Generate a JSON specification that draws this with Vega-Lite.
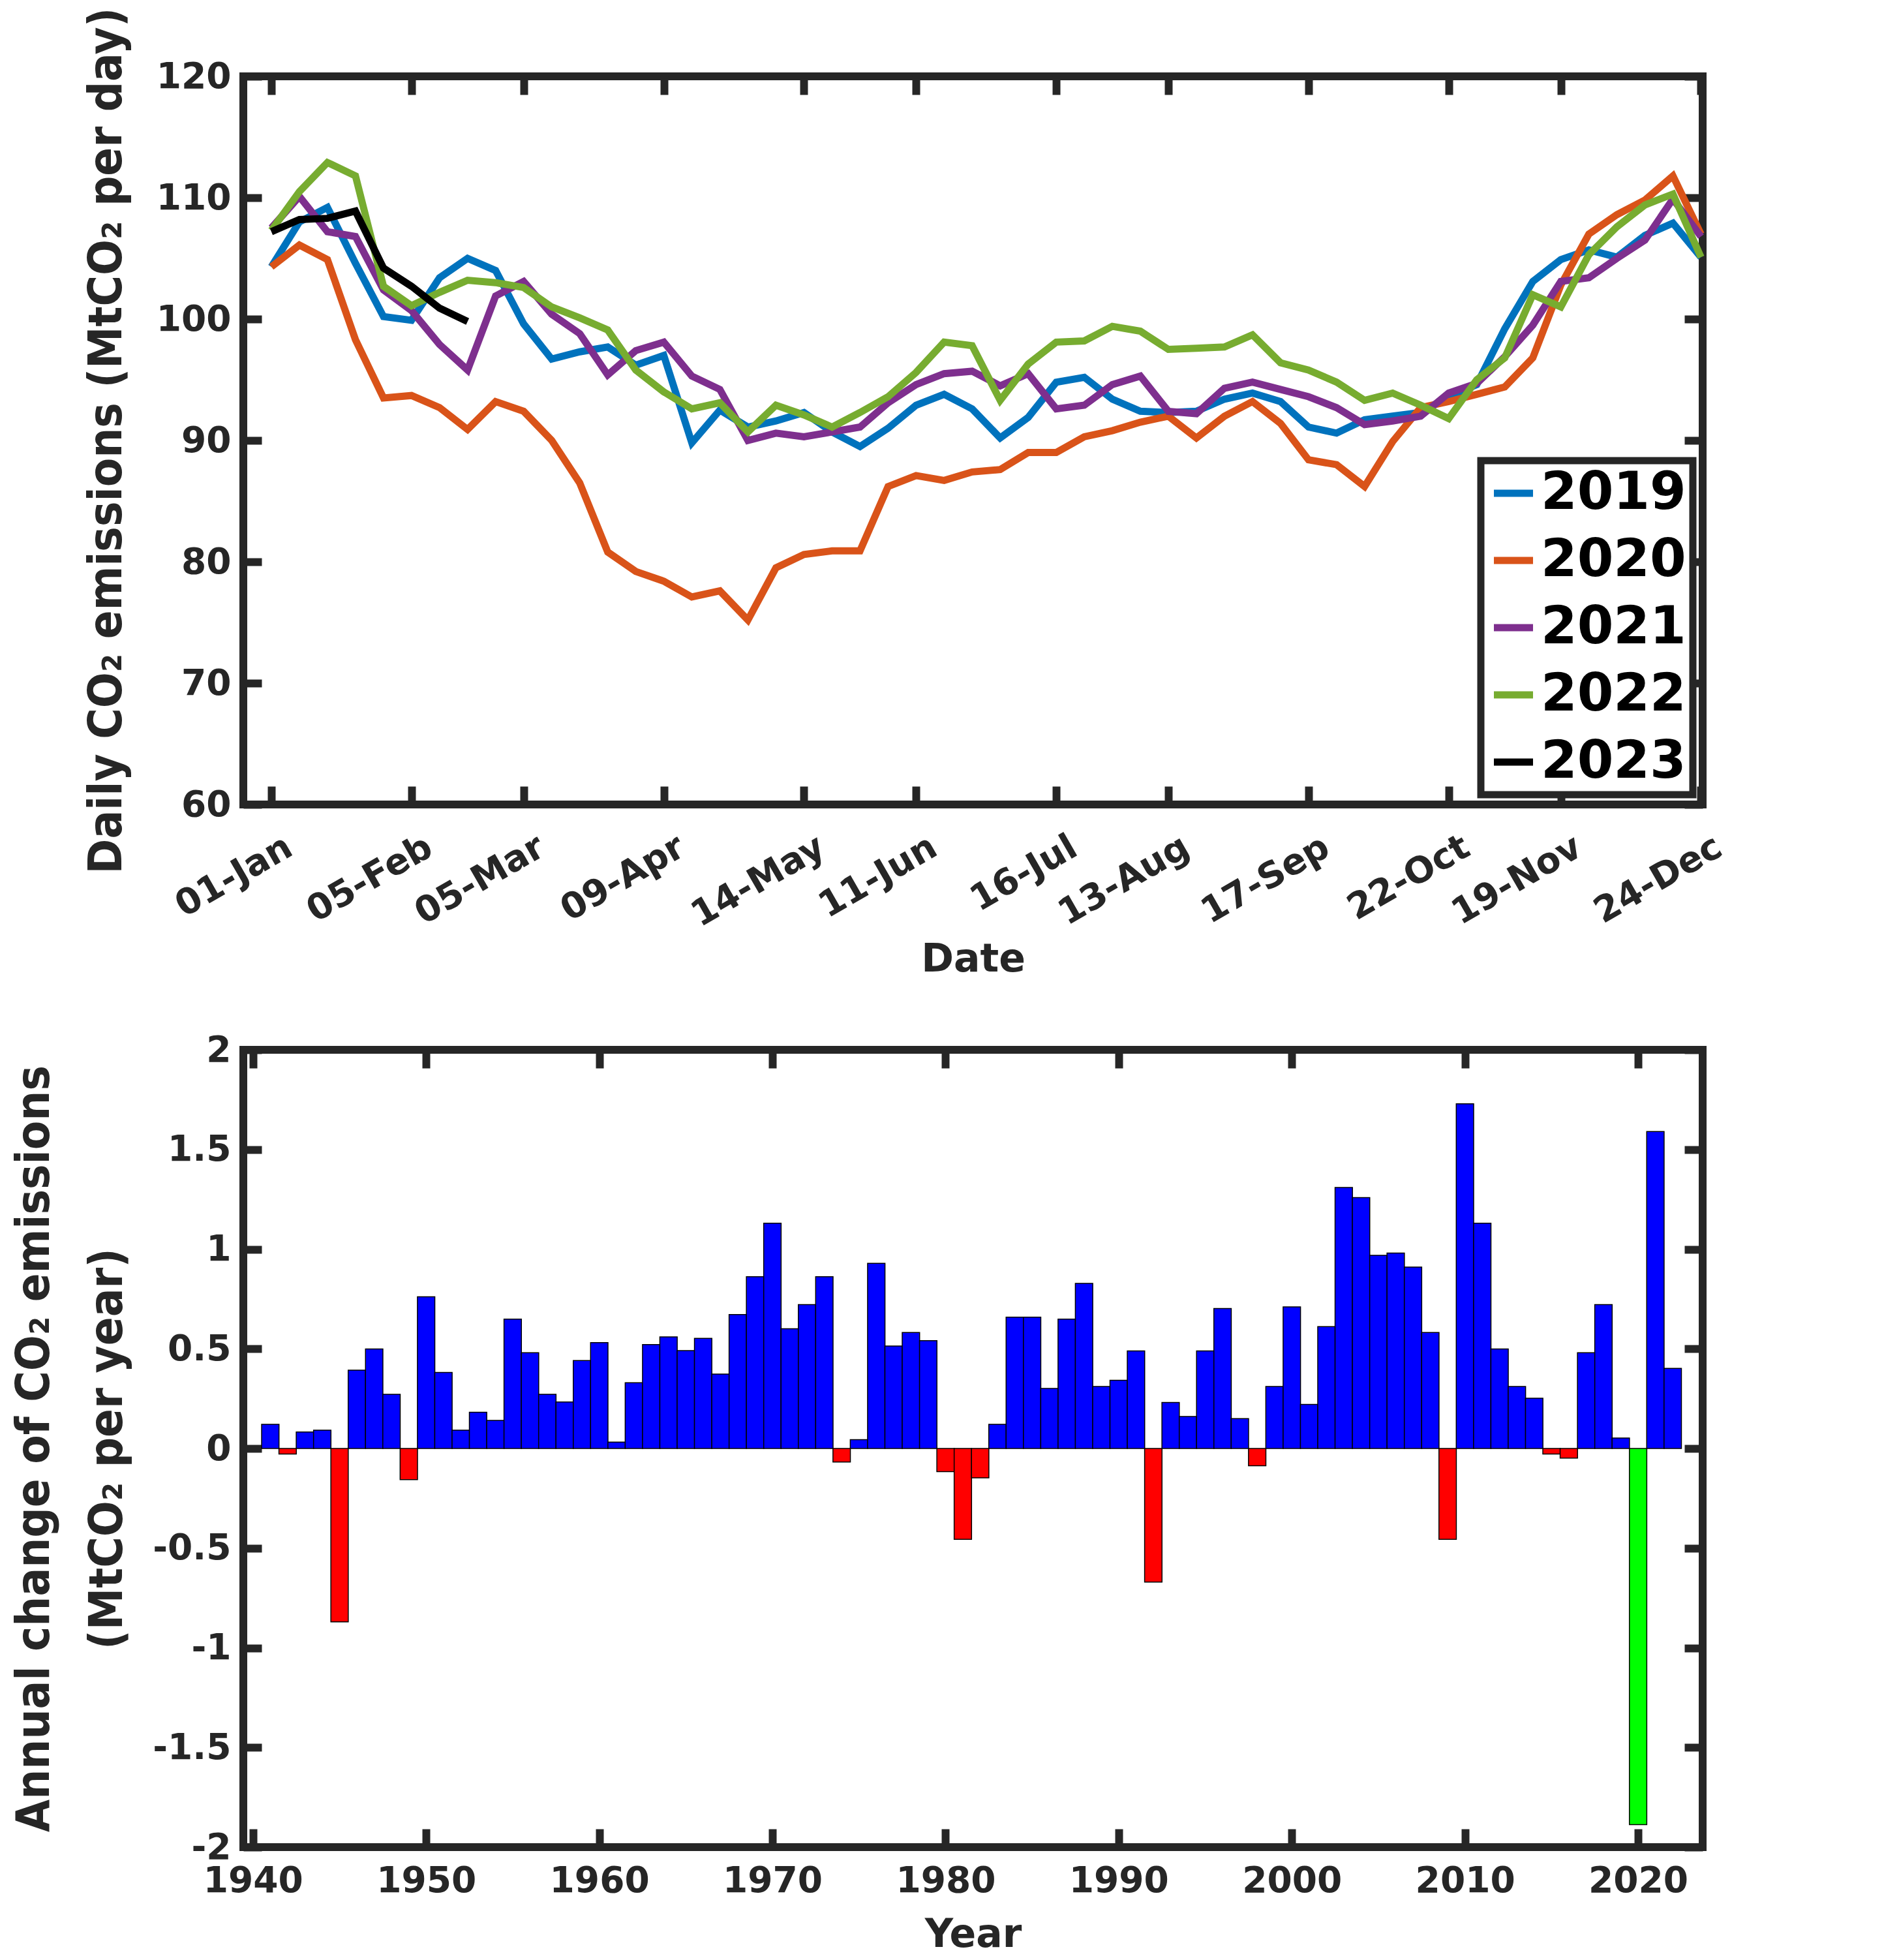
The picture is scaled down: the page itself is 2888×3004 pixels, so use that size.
{
  "$schema": "https://vega.github.io/schema/vega-lite/v6.json",
  "padding": {"left": 10, "top": 5, "right": 5, "bottom": 0},
  "spacing": 70,
  "vconcat": [
    {
      "width": 2237,
      "height": 1116,
      "data": {
        "values": [
          {"date": "2019-01-01T00:00", "2019": 104.3, "2020": 104.3, "2021": 107.5, "2022": 107.3, "2023": 107.2},
          {"date": "2019-01-08T00:00", "2019": 108.0, "2020": 106.1, "2021": 110.1, "2022": 110.5, "2023": 108.2},
          {"date": "2019-01-15T00:00", "2019": 109.2, "2020": 104.9, "2021": 107.2, "2022": 112.9, "2023": 108.3},
          {"date": "2019-01-22T00:00", "2019": 104.6, "2020": 98.3, "2021": 106.8, "2022": 111.8, "2023": 108.9},
          {"date": "2019-01-29T00:00", "2019": 100.2, "2020": 93.5, "2021": 102.4, "2022": 102.7, "2023": 104.2},
          {"date": "2019-02-05T00:00", "2019": 99.9, "2020": 93.7, "2021": 100.7, "2022": 101.1, "2023": 102.7},
          {"date": "2019-02-12T00:00", "2019": 103.4, "2020": 92.7, "2021": 97.9, "2022": 102.2, "2023": 100.9},
          {"date": "2019-02-19T00:00", "2019": 105.0, "2020": 90.9, "2021": 95.8, "2022": 103.2, "2023": 99.8},
          {"date": "2019-02-26T00:00", "2019": 104.0, "2020": 93.2, "2021": 101.9, "2022": 103.0},
          {"date": "2019-03-05T00:00", "2019": 99.6, "2020": 92.4, "2021": 103.1, "2022": 102.6},
          {"date": "2019-03-12T00:00", "2019": 96.7, "2020": 90.0, "2021": 100.4, "2022": 101.0},
          {"date": "2019-03-19T00:00", "2019": 97.3, "2020": 86.5, "2021": 98.8, "2022": 100.1},
          {"date": "2019-03-26T00:00", "2019": 97.7, "2020": 80.8, "2021": 95.4, "2022": 99.1},
          {"date": "2019-04-02T00:00", "2019": 96.2, "2020": 79.2, "2021": 97.4, "2022": 95.8},
          {"date": "2019-04-09T00:00", "2019": 97.0, "2020": 78.4, "2021": 98.1, "2022": 94.0},
          {"date": "2019-04-16T00:00", "2019": 89.8, "2020": 77.1, "2021": 95.3, "2022": 92.6},
          {"date": "2019-04-23T00:00", "2019": 92.5, "2020": 77.6, "2021": 94.2, "2022": 93.1},
          {"date": "2019-04-30T00:00", "2019": 91.1, "2020": 75.2, "2021": 90.0, "2022": 90.7},
          {"date": "2019-05-07T00:00", "2019": 91.6, "2020": 79.5, "2021": 90.6, "2022": 92.9},
          {"date": "2019-05-14T00:00", "2019": 92.3, "2020": 80.6, "2021": 90.3, "2022": 92.1},
          {"date": "2019-05-21T00:00", "2019": 90.7, "2020": 80.9, "2021": 90.7, "2022": 91.1},
          {"date": "2019-05-28T00:00", "2019": 89.5, "2020": 80.9, "2021": 91.1, "2022": 92.3},
          {"date": "2019-06-04T00:00", "2019": 91.0, "2020": 86.2, "2021": 93.1, "2022": 93.6},
          {"date": "2019-06-11T00:00", "2019": 92.9, "2020": 87.1, "2021": 94.6, "2022": 95.6},
          {"date": "2019-06-18T00:00", "2019": 93.8, "2020": 86.7, "2021": 95.5, "2022": 98.1},
          {"date": "2019-06-25T00:00", "2019": 92.6, "2020": 87.4, "2021": 95.7, "2022": 97.8},
          {"date": "2019-07-02T00:00", "2019": 90.2, "2020": 87.6, "2021": 94.5, "2022": 93.3},
          {"date": "2019-07-09T00:00", "2019": 91.9, "2020": 89.0, "2021": 95.5, "2022": 96.3},
          {"date": "2019-07-16T00:00", "2019": 94.8, "2020": 89.0, "2021": 92.6, "2022": 98.1},
          {"date": "2019-07-23T00:00", "2019": 95.2, "2020": 90.3, "2021": 92.9, "2022": 98.2},
          {"date": "2019-07-30T00:00", "2019": 93.4, "2020": 90.8, "2021": 94.6, "2022": 99.4},
          {"date": "2019-08-06T00:00", "2019": 92.4, "2020": 91.5, "2021": 95.3, "2022": 99.0},
          {"date": "2019-08-13T00:00", "2019": 92.3, "2020": 92.0, "2021": 92.4, "2022": 97.5},
          {"date": "2019-08-20T00:00", "2019": 92.4, "2020": 90.2, "2021": 92.2, "2022": 97.6},
          {"date": "2019-08-27T00:00", "2019": 93.4, "2020": 92.0, "2021": 94.3, "2022": 97.7},
          {"date": "2019-09-03T00:00", "2019": 93.9, "2020": 93.2, "2021": 94.8, "2022": 98.7},
          {"date": "2019-09-10T00:00", "2019": 93.2, "2020": 91.4, "2021": 94.2, "2022": 96.4},
          {"date": "2019-09-17T00:00", "2019": 91.1, "2020": 88.4, "2021": 93.6, "2022": 95.8},
          {"date": "2019-09-24T00:00", "2019": 90.6, "2020": 88.0, "2021": 92.7, "2022": 94.8},
          {"date": "2019-10-01T00:00", "2019": 91.7, "2020": 86.2, "2021": 91.3, "2022": 93.3},
          {"date": "2019-10-08T00:00", "2019": 92.0, "2020": 89.9, "2021": 91.6, "2022": 93.9},
          {"date": "2019-10-15T00:00", "2019": 92.3, "2020": 92.7, "2021": 92.0, "2022": 92.9},
          {"date": "2019-10-22T00:00", "2019": 93.6, "2020": 93.2, "2021": 93.9, "2022": 91.8},
          {"date": "2019-10-29T00:00", "2019": 94.6, "2020": 93.8, "2021": 94.7, "2022": 95.0},
          {"date": "2019-11-05T00:00", "2019": 99.2, "2020": 94.4, "2021": 96.9, "2022": 96.8},
          {"date": "2019-11-12T00:00", "2019": 103.1, "2020": 96.8, "2021": 99.5, "2022": 102.0},
          {"date": "2019-11-19T00:00", "2019": 104.9, "2020": 102.8, "2021": 103.1, "2022": 101.0},
          {"date": "2019-11-26T00:00", "2019": 105.7, "2020": 107.0, "2021": 103.4, "2022": 105.3},
          {"date": "2019-12-03T00:00", "2019": 105.1, "2020": 108.6, "2021": 105.0, "2022": 107.6},
          {"date": "2019-12-10T00:00", "2019": 106.9, "2020": 109.8, "2021": 106.5, "2022": 109.4},
          {"date": "2019-12-17T00:00", "2019": 107.9, "2020": 111.8, "2021": 109.9, "2022": 110.3},
          {"date": "2019-12-24T00:00", "2019": 105.1, "2020": 107.0, "2021": 106.8, "2022": 105.1}
        ]
      },
      "transform": [
        {"fold": ["2019", "2020", "2021", "2022", "2023"], "as": ["year", "value"]},
        {"filter": "isValid(datum.value)"}
      ],
      "layer": [
        {
          "mark": {"type": "line", "strokeWidth": 11},
          "encoding": {
            "x": {
              "field": "date", "type": "temporal",
              "scale": {"domain": [{"year": 2018, "month": 12, "date": 25}, {"year": 2019, "month": 12, "date": 24, "hours": 10}], "nice": false},
              "axis": {
                "values": [
                  {"year": 2019, "month": 1, "date": 1}, {"year": 2019, "month": 2, "date": 5},
                  {"year": 2019, "month": 3, "date": 5}, {"year": 2019, "month": 4, "date": 9},
                  {"year": 2019, "month": 5, "date": 14}, {"year": 2019, "month": 6, "date": 11},
                  {"year": 2019, "month": 7, "date": 16}, {"year": 2019, "month": 8, "date": 13},
                  {"year": 2019, "month": 9, "date": 17}, {"year": 2019, "month": 10, "date": 22},
                  {"year": 2019, "month": 11, "date": 19}, {"year": 2019, "month": 12, "date": 24}
                ],
                "format": "%d-%b", "labelAngle": -30, "labelAlign": "right", "labelBaseline": "top",
                "labelPadding": 38, "labelOffset": 14,
                "title": "Date", "titleFont": "DejaVu Sans", "titleFontSize": 60, "titlePadding": 36,
                "offset": -28, "tickSize": 28
              }
            },
            "y": {
              "field": "value", "type": "quantitative",
              "scale": {"domain": [60, 120], "nice": false},
              "axis": {
                "values": [60, 70, 80, 90, 100, 110, 120],
                "labelPadding": 19,
                "title": "Daily CO₂ emissions (MtCO₂ per day)", "titlePadding": 39,
                "offset": -28, "tickSize": 28
              }
            },
            "color": {
              "field": "year", "type": "nominal",
              "scale": {"domain": ["2019", "2020", "2021", "2022", "2023"], "range": ["#0072BD", "#D95319", "#7E2F8E", "#77AC30", "#000000"]},
              "legend": {
                "title": null, "orient": "none", "legendX": 1897, "legendY": 589, "padding": 10,
                "strokeColor": "#262626", "fillColor": "white",
                "labelFont": "DejaVu Sans", "labelFontWeight": "bold", "labelFontSize": 80, "labelColor": "#000000",
                "labelLimit": 400, "labelOffset": 2,
                "symbolType": "stroke", "symbolStrokeWidth": 11, "symbolSize": 3600, "rowPadding": 23
              }
            }
          }
        },
        {
          "mark": {"type": "line", "opacity": 0},
          "encoding": {
            "x": {
              "field": "date", "type": "temporal",
              "axis": {
                "orient": "top", "labels": false, "title": null,
                "values": [
                  {"year": 2019, "month": 1, "date": 1}, {"year": 2019, "month": 2, "date": 5},
                  {"year": 2019, "month": 3, "date": 5}, {"year": 2019, "month": 4, "date": 9},
                  {"year": 2019, "month": 5, "date": 14}, {"year": 2019, "month": 6, "date": 11},
                  {"year": 2019, "month": 7, "date": 16}, {"year": 2019, "month": 8, "date": 13},
                  {"year": 2019, "month": 9, "date": 17}, {"year": 2019, "month": 10, "date": 22},
                  {"year": 2019, "month": 11, "date": 19}, {"year": 2019, "month": 12, "date": 24}
                ],
                "offset": -28, "tickSize": 28
              }
            },
            "y": {
              "field": "value", "type": "quantitative",
              "axis": {"orient": "right", "labels": false, "title": null, "values": [60, 70, 80, 90, 100, 110, 120], "offset": -28, "tickSize": 28}
            },
            "detail": {"field": "year"}
          }
        }
      ],
      "resolve": {"axis": {"x": "independent", "y": "independent"}}
    },
    {
      "width": 2237,
      "height": 1222,
      "data": {
        "values": [
          {"year": 1941, "change": 0.121}, {"year": 1942, "change": -0.028}, {"year": 1943, "change": 0.083},
          {"year": 1944, "change": 0.092}, {"year": 1945, "change": -0.870}, {"year": 1946, "change": 0.393},
          {"year": 1947, "change": 0.499}, {"year": 1948, "change": 0.272}, {"year": 1949, "change": -0.156},
          {"year": 1950, "change": 0.761}, {"year": 1951, "change": 0.381}, {"year": 1952, "change": 0.092},
          {"year": 1953, "change": 0.182}, {"year": 1954, "change": 0.141}, {"year": 1955, "change": 0.649},
          {"year": 1956, "change": 0.480}, {"year": 1957, "change": 0.272}, {"year": 1958, "change": 0.233},
          {"year": 1959, "change": 0.441}, {"year": 1960, "change": 0.531}, {"year": 1961, "change": 0.032},
          {"year": 1962, "change": 0.330}, {"year": 1963, "change": 0.521}, {"year": 1964, "change": 0.560},
          {"year": 1965, "change": 0.491}, {"year": 1966, "change": 0.552}, {"year": 1967, "change": 0.373},
          {"year": 1968, "change": 0.672}, {"year": 1969, "change": 0.862}, {"year": 1970, "change": 1.130},
          {"year": 1971, "change": 0.601}, {"year": 1972, "change": 0.722}, {"year": 1973, "change": 0.862},
          {"year": 1974, "change": -0.068}, {"year": 1975, "change": 0.044}, {"year": 1976, "change": 0.929},
          {"year": 1977, "change": 0.514}, {"year": 1978, "change": 0.582}, {"year": 1979, "change": 0.541},
          {"year": 1980, "change": -0.116}, {"year": 1981, "change": -0.456}, {"year": 1982, "change": -0.147},
          {"year": 1983, "change": 0.121}, {"year": 1984, "change": 0.659}, {"year": 1985, "change": 0.659},
          {"year": 1986, "change": 0.301}, {"year": 1987, "change": 0.649}, {"year": 1988, "change": 0.828},
          {"year": 1989, "change": 0.311}, {"year": 1990, "change": 0.342}, {"year": 1991, "change": 0.489},
          {"year": 1992, "change": -0.670}, {"year": 1993, "change": 0.231}, {"year": 1994, "change": 0.160},
          {"year": 1995, "change": 0.489}, {"year": 1996, "change": 0.702}, {"year": 1997, "change": 0.150},
          {"year": 1998, "change": -0.087}, {"year": 1999, "change": 0.311}, {"year": 2000, "change": 0.710},
          {"year": 2001, "change": 0.221}, {"year": 2002, "change": 0.611}, {"year": 2003, "change": 1.309},
          {"year": 2004, "change": 1.259}, {"year": 2005, "change": 0.969}, {"year": 2006, "change": 0.980},
          {"year": 2007, "change": 0.910}, {"year": 2008, "change": 0.582}, {"year": 2009, "change": -0.456},
          {"year": 2010, "change": 1.729}, {"year": 2011, "change": 1.130}, {"year": 2012, "change": 0.499},
          {"year": 2013, "change": 0.311}, {"year": 2014, "change": 0.252}, {"year": 2015, "change": -0.028},
          {"year": 2016, "change": -0.048}, {"year": 2017, "change": 0.480}, {"year": 2018, "change": 0.722},
          {"year": 2019, "change": 0.052}, {"year": 2020, "change": -1.887}, {"year": 2021, "change": 1.590},
          {"year": 2022, "change": 0.402}
        ]
      },
      "layer": [
        {
          "mark": {"type": "bar", "width": 26.66, "stroke": "#000000", "strokeWidth": 1.5},
          "encoding": {
            "x": {
              "field": "year", "type": "quantitative",
              "scale": {"domain": [1939.63, 2023.54], "nice": false, "zero": false},
              "axis": {
                "values": [1940, 1950, 1960, 1970, 1980, 1990, 2000, 2010, 2020], "format": "d",
                "labelPadding": 25,
                "title": "Year", "titleFont": "DejaVu Sans", "titleFontSize": 60, "titlePadding": 26,
                "offset": -28, "tickSize": 28
              }
            },
            "y": {
              "field": "change", "type": "quantitative",
              "scale": {"domain": [-2, 2], "nice": false},
              "axis": {
                "values": [-2, -1.5, -1, -0.5, 0, 0.5, 1, 1.5, 2], "labelExpr": "'' + datum.value",
                "labelPadding": 19,
                "title": ["Annual change of CO₂ emissions", "(MtCO₂ per year)"], "titlePadding": 32, "titleLineHeight": 112,
                "offset": -28, "tickSize": 28
              }
            },
            "color": {
              "condition": [
                {"test": "datum.year === 2020", "value": "#00FF00"},
                {"test": "datum.change < 0", "value": "#FF0000"}
              ],
              "value": "#0000FF"
            }
          }
        },
        {
          "mark": {"type": "point", "opacity": 0},
          "encoding": {
            "x": {
              "field": "year", "type": "quantitative",
              "axis": {"orient": "top", "labels": false, "title": null, "values": [1940, 1950, 1960, 1970, 1980, 1990, 2000, 2010, 2020], "offset": -28, "tickSize": 28}
            },
            "y": {
              "field": "change", "type": "quantitative",
              "axis": {"orient": "right", "labels": false, "title": null, "values": [-2, -1.5, -1, -0.5, 0, 0.5, 1, 1.5, 2], "offset": -28, "tickSize": 28}
            }
          }
        }
      ],
      "resolve": {"axis": {"x": "independent", "y": "independent"}}
    }
  ],
  "config": {
    "view": {"stroke": "#262626", "strokeWidth": 12},
    "legend": {"strokeWidth": 11},
    "axis": {
      "domain": false, "grid": false,
      "labelFont": "DejaVu Sans", "labelFontWeight": "bold", "labelFontSize": 55, "labelColor": "#262626",
      "labelLimit": 1000, "labelOverlap": false,
      "tickColor": "#262626", "tickWidth": 12,
      "titleFont": "DejaVu Sans Condensed, Liberation Sans Narrow, DejaVu Sans", "titleFontWeight": "bold",
      "titleFontSize": 72, "titleColor": "#262626"
    }
  }
}
